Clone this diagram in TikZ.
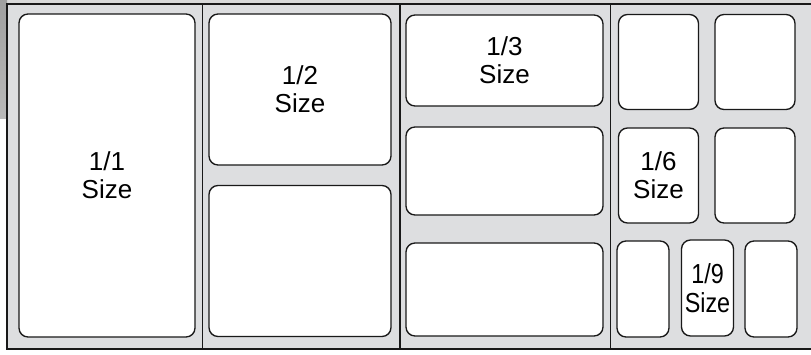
\documentclass[tikz,border=0pt]{standalone}
\usepackage{fontspec}
\setmainfont{Liberation Sans}
\newfontfamily\narrowfont[FakeStretch=0.85]{Liberation Sans}
\usetikzlibrary{positioning}
\definecolor{pangray}{RGB}{221,222,224}
\definecolor{panline}{RGB}{25,25,25}

\begin{document}
\begin{tikzpicture}[x=1pt, y=-1pt,
      pan/.style={draw=panline, fill=white, rounded corners=9pt, line width=1.35pt, inner sep=0pt, align=center, font=\fontsize{26}{28}\selectfont},
      fullpan/.style={pan, minimum width=176pt, minimum height=323pt},
      halfpan/.style={pan, minimum width=182pt, minimum height=151pt},
      thirdpan/.style={pan, minimum width=197pt, minimum height=90pt},
      sixthpan/.style={pan, minimum width=80pt, minimum height=95pt},
      ninthpan/.style={pan, minimum width=52pt, minimum height=96pt},
      divider/.style={draw=panline, line width=1.1pt}
    ]
      \useasboundingbox (0,0) rectangle (811,354);
      % backdrop
      \fill[gray!30] (0,0) rectangle (811,4);
      \shade[top color=gray!75, bottom color=gray!55] (0,0) rectangle (7,118);

      % counter frame
      \filldraw[divider, fill=pangray] (7,4) rectangle (815,349);
      \draw[divider] (202.5,4) -- (202.5,349);
      \draw[divider] (400,4) -- (400,349);
      \draw[divider] (610.5,4) -- (610.5,349);

      % 1/1
      \node[fullpan] (full) at (107,175.5) {1/1\\Size};

      % 1/2
      \node[halfpan] (halfA) at (300,89.5) {1/2\\Size};
      \node[halfpan] (halfB) at (300,261) {};

      % 1/3
      \node[thirdpan, minimum height=91pt] (thirdA) at (504.5,60.5) {1/3\\Size};
      \node[thirdpan, minimum height=88pt] (thirdB) at (504.5,171) {};
      \node[thirdpan, minimum height=93pt] (thirdC) at (504.5,289.5) {};

      % 1/6
      \node[sixthpan] (sixthA) at (658.5,62) {};
      \node[sixthpan] (sixthB) at (755,62) {};
      \node[sixthpan] (sixthC) at (658.5,175.5) {1/6\\Size};
      \node[sixthpan] (sixthD) at (755,175.5) {};

      % 1/9
      \node[ninthpan] (ninthA) at (643,289) {};
      \node[ninthpan, font=\narrowfont\fontsize{27.5}{29}\selectfont] (ninthB) at (707.5,288) {1/9\\Size};
      \node[ninthpan] (ninthC) at (771,289) {};
    \end{tikzpicture}
\end{document}
